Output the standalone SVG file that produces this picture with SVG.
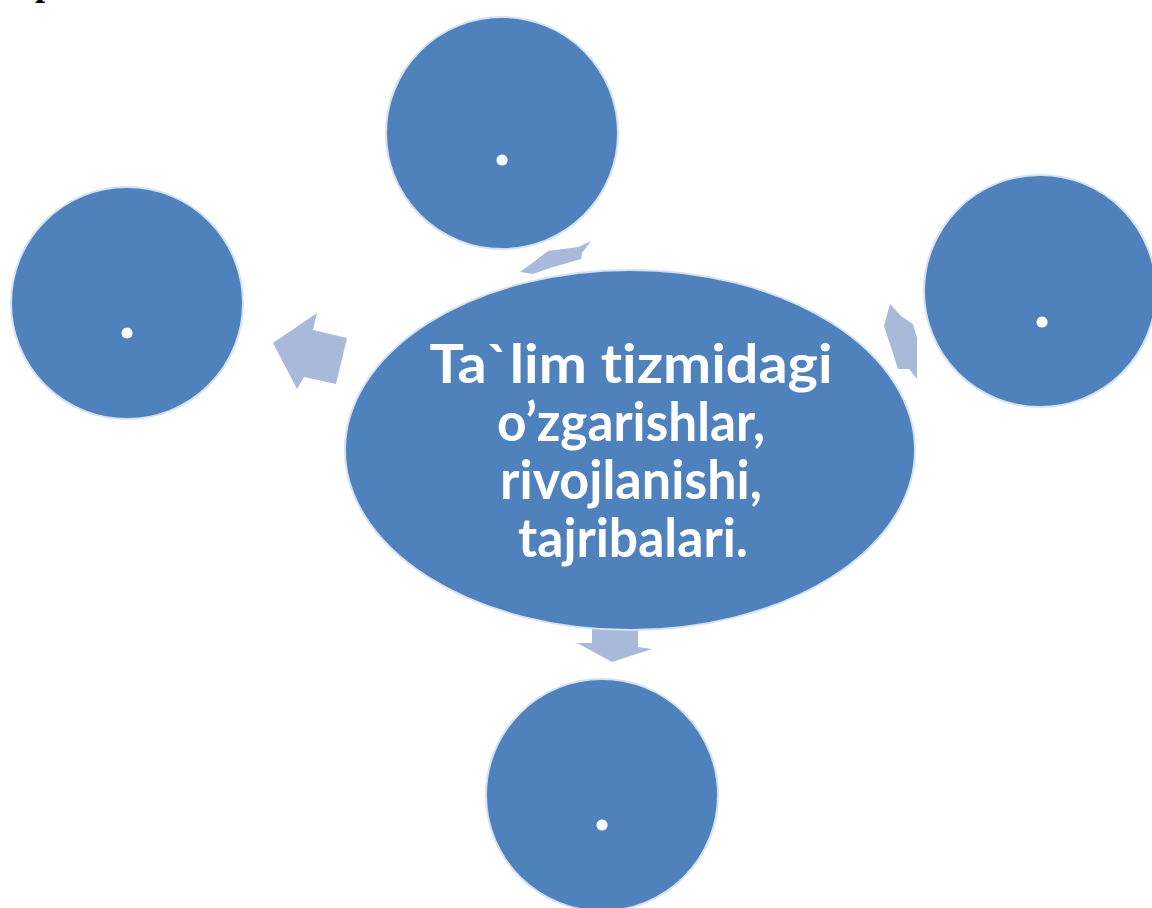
<svg xmlns="http://www.w3.org/2000/svg" width="1152" height="908" viewBox="0 0 1152 908">
<style>
.node{fill:#4f81bd;stroke:#d6e1f0;stroke-width:2}
.arrow{fill:#a9b9d9;stroke:none}
.dot{fill:#ffffff;font-family:Lato,"Liberation Sans",sans-serif;font-weight:bold;font-size:72px;text-anchor:middle}
.main{fill:#ffffff;font-family:Lato,"Liberation Sans",sans-serif;font-weight:bold;font-size:54px;text-anchor:middle;font-variant-ligatures:none}
</style>
<rect width="1152" height="908" fill="#ffffff"/>
<text id="fragment" x="35" y="-5" font-family="'Liberation Serif',serif" font-weight="bold" font-size="36" fill="#000000">p</text>
<g id="connectors">
  <polygon class="arrow" points="520,272 535,261 548,251 578,247 591,241 582,253 581,259 550,268 533,274"/>
  <polygon class="arrow" points="273,343 317,313 313,330 347,338 336,384 304,377 297,389"/>
  <polygon class="arrow" points="890,304 901,316 913,324 917,338 917,379 909,369 898,369 884,326"/>
  <polygon class="arrow" points="592,627 638,630 638,647 652,649 612,662 577,643 592,643"/>
</g>
<g id="center">
  <ellipse class="node" cx="630" cy="450" rx="285" ry="180"/>
  <text class="main" x="631" y="383" textLength="403" lengthAdjust="spacingAndGlyphs">Ta`lim tizmidagi</text>
  <text class="main" x="631" y="441" textLength="268" lengthAdjust="spacingAndGlyphs">o’zgarishlar,</text>
  <text class="main" x="631" y="499" textLength="262" lengthAdjust="spacingAndGlyphs">rivojlanishi,</text>
  <text class="main" x="633" y="557" textLength="230" lengthAdjust="spacingAndGlyphs">tajribalari.</text>
</g>
<g id="node-top">
  <circle class="node" cx="502" cy="133" r="116"/>
  <text class="dot" x="502" y="165">.</text>
</g>
<g id="node-left">
  <circle class="node" cx="127" cy="303" r="116"/>
  <text class="dot" x="127" y="338">.</text>
</g>
<g id="node-right">
  <circle class="node" cx="1040" cy="291" r="116"/>
  <text class="dot" x="1042" y="327">.</text>
</g>
<g id="node-bottom">
  <circle class="node" cx="602" cy="795" r="116"/>
  <text class="dot" x="602" y="830">.</text>
</g>
</svg>
